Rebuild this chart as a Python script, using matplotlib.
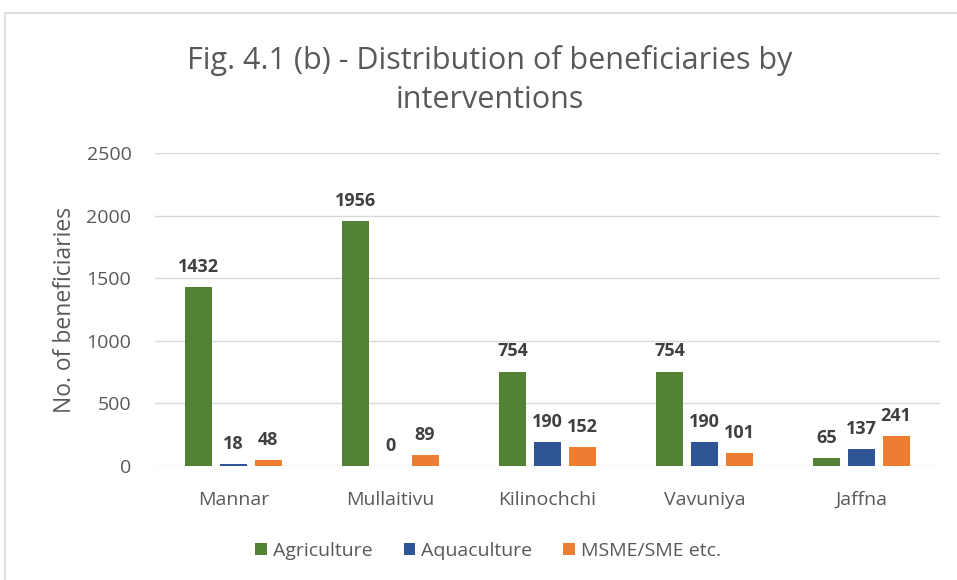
import matplotlib
matplotlib.use("Agg")
import matplotlib.pyplot as plt
import numpy as np
from matplotlib.patches import Rectangle

plt.rcParams["font.family"] = ["Open Sans", "DejaVu Sans"]

districts = ["Mannar", "Mullaitivu", "Kilinochchi", "Vavuniya", "Jaffna"]
series_names = ["Agriculture", "Aquaculture", "MSME/SME etc."]
agriculture = [1432, 1956, 754, 754, 65]
aquaculture = [18, 0, 190, 190, 137]
msme = [48, 89, 152, 101, 241]
yticks = [0, 500, 1000, 1500, 2000, 2500]

colors = ["#548235", "#2F5597", "#ED7D31"]
text_grey = "#595959"
grid_grey = "#D9D9D9"

fig = plt.figure(figsize=(9.57, 5.8), dpi=100)
ax = fig.add_axes([155 / 957, 1 - 466 / 580, 785 / 957, 313 / 580])

x = np.arange(len(districts))
width = 0.172
step = 0.22
for i, (name, vals) in enumerate(zip(series_names, [agriculture, aquaculture, msme])):
    bars = ax.bar(x + (i - 1) * step, vals, width, color=colors[i], label=name, zorder=3)
    for b, v in zip(bars, vals):
        ax.annotate(str(v), (b.get_x() + b.get_width() / 2, v), xytext=(0, 8),
                    textcoords="offset points", ha="center", va="bottom",
                    fontsize=13, fontweight="bold", color="#404040")

ax.set_xlim(-0.5, len(districts) - 0.5)
ax.set_ylim(0, 2500)
ax.set_yticks(yticks)
ax.set_xticks(x)
ax.set_xticklabels(districts)
ax.tick_params(axis="both", length=0, labelsize=14, labelcolor=text_grey)
ax.tick_params(axis="y", pad=17)
ax.tick_params(axis="x", pad=18)
ax.grid(axis="y", color=grid_grey, lw=1, zorder=0)
for s in ax.spines.values():
    s.set_visible(False)
ax.set_ylabel("No. of beneficiaries", fontsize=16.5, color=text_grey, labelpad=7)

fig.text(490 / 957, 1 - 80 / 580, "Fig. 4.1 (b) - Distribution of beneficiaries by\ninterventions",
         ha="center", va="center", fontsize=22, color=text_grey, linespacing=1.42)

ax.legend(loc="center", bbox_to_anchor=(488 / 957, 1 - 551 / 580), bbox_transform=fig.transFigure,
          ncol=3, frameon=False, fontsize=14, labelcolor=text_grey, handlelength=0.6,
          handleheight=0.6, handletextpad=0.3, columnspacing=1.6)

fig.patches.append(Rectangle((5 / 957, -0.1), 1.2, 1 - 13 / 580 + 0.1, transform=fig.transFigure,
                             fill=False, edgecolor=grid_grey, lw=1.2))

fig.savefig("out.png", dpi=100)
